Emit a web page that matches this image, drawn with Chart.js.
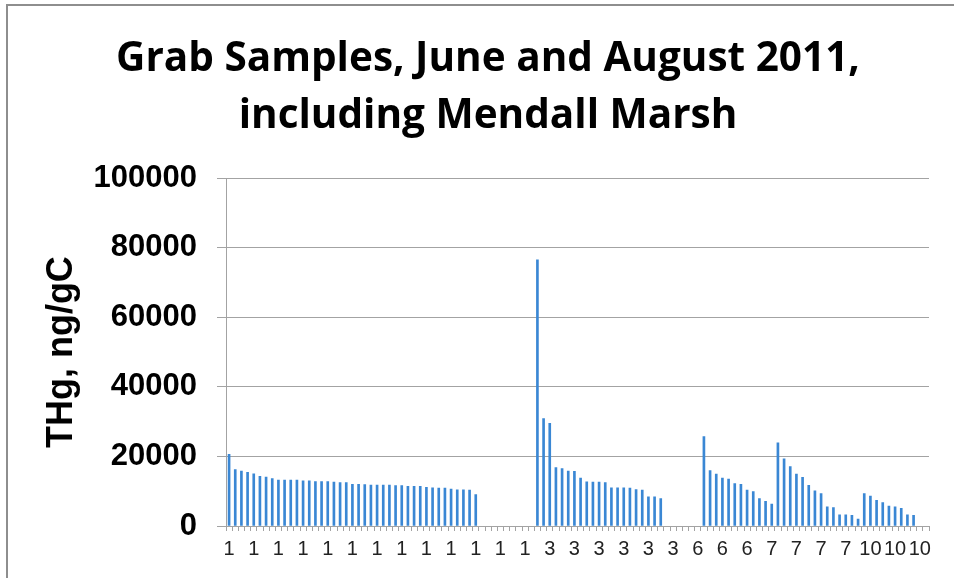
<!DOCTYPE html>
<html>
<head>
<meta charset="utf-8">
<script src="https://cdn.jsdelivr.net/npm/chart.js@4.4.1/dist/chart.umd.min.js"></script>
<style>
  html, body { margin: 0; padding: 0; background: #ffffff; width: 954px; height: 578px; overflow: hidden; }
  #frame { position: absolute; left: 6px; top: 4px; width: 1000px; height: 700px;
           border-top: 2px solid #8e8e8e; border-left: 2px solid #8e8e8e; }
  #c { position: absolute; left: 7px; top: 5px; }
</style>
</head>
<body>
<div id="frame"></div>
<canvas id="c" width="962" height="573"></canvas>
<script>
// Site label for each sample position (x categories)
const sites = [
  "1","1","1","1","1","1","1","1","1","1","1","1","1","1","1","1","1","1","1","1",
  "1","1","1","1","1","1","1","1","1","1","1","1","1","1","1","1","1","1","1","1",
  "1","1","1","1","1","1","1","1","1","1",
  "3","3","3","3","3","3","3","3","3","3","3","3","3","3","3","3","3","3","3","3",
  "3","3","3","3","3","3",
  "6","6","6","6","6","6","6","6","6","6","6","6",
  "7","7","7","7","7","7","7","7","7","7","7","7","7","7","7",
  "10","10","10","10","10","10","10","10","10","10","10"
];

// THg, ng/gC for each sample position (null = no sample)
const thg = [
  20600,16200,15800,15400,15000,14300,14100,13600,13200,13200,
  13200,13200,13000,13000,12800,12800,12800,12600,12500,12500,
  12000,12000,11900,11800,11800,11800,11800,11600,11600,11400,
  11400,11400,11100,11000,10900,10900,10600,10400,10400,10300,
  9000,
  null,null,null,null,null,null,null,null,null,
  76500,30900,29500,16800,16500,15800,15700,13800,12700,12600,
  12600,12500,11000,11000,11000,10900,10500,10300,8400,8400,
  7900,
  null,null,null,null,null,null,
  25700,15900,14900,13800,13500,12200,12000,10300,9900,7900,
  7100,6300,
  23900,19300,17100,14900,14000,11700,10100,9300,5500,5300,
  3200,3200,3100,2000,
  9300,8600,7400,6700,5700,5500,5100,3200,3100,
  null,null
];

const titleLines = ["Grab Samples, June and August 2011,", "including Mendall Marsh"];
const yTitle = "THg, ng/gC";
const yTicks = [0, 20000, 40000, 60000, 80000, 100000];
const labelEvery = 4;

const gridGray = "#a3a3a3";

new Chart(document.getElementById("c"), {
  type: "bar",
  data: {
    labels: sites,
    datasets: [{
      data: thg,
      backgroundColor: "#3a87d4",
      borderWidth: 0,
      barThickness: 2
    }]
  },
  options: {
    responsive: false,
    animation: false,
    layout: { padding: { left: 40, right: 40, top: 0, bottom: 0 } },
    plugins: {
      legend: { display: false },
      tooltip: { enabled: false },
      title: {
        display: true,
        text: titleLines,
        color: "#000000",
        font: { family: "'Open Sans', Lato, sans-serif", size: 40.5, weight: "bold", lineHeight: 1.41 },
        padding: { top: 26, bottom: 33 }
      }
    },
    scales: {
      x: {
        type: "category",
        offset: true,
        grid: { display: true, drawOnChartArea: false, drawTicks: true, tickLength: 5, color: gridGray, offset: true },
        border: { display: true, color: gridGray, width: 1 },
        ticks: {
          autoSkip: false,
          maxRotation: 0,
          minRotation: 0,
          padding: 6,
          color: "#222222",
          font: { family: "'Liberation Sans', Arial, sans-serif", size: 20 },
          callback: function (value, index) {
            return index % labelEvery === 0 ? this.getLabelForValue(value) : "";
          }
        },
        afterFit: function (scale) { scale.height = 52; }
      },
      y: {
        min: 0,
        max: 100000,
        afterBuildTicks: function (scale) { scale.ticks = yTicks.map(v => ({ value: v })); },
        grid: { color: gridGray, tickLength: 9, drawTicks: true },
        border: { display: true, color: gridGray, width: 1 },
        ticks: {
          padding: 20,
          color: "#000000",
          font: { family: "'Liberation Sans', Arial, sans-serif", size: 31, weight: "bold" },
          callback: function (value) { return String(value); }
        },
        title: {
          display: true,
          text: yTitle,
          color: "#000000",
          font: { family: "'Liberation Sans', Arial, sans-serif", size: 36, weight: "bold", lineHeight: 0.8 },
          padding: { top: 1, bottom: 0 }
        },
        afterFit: function (scale) { scale.width = 179; }
      }
    }
  }
});
</script>
</body>
</html>
